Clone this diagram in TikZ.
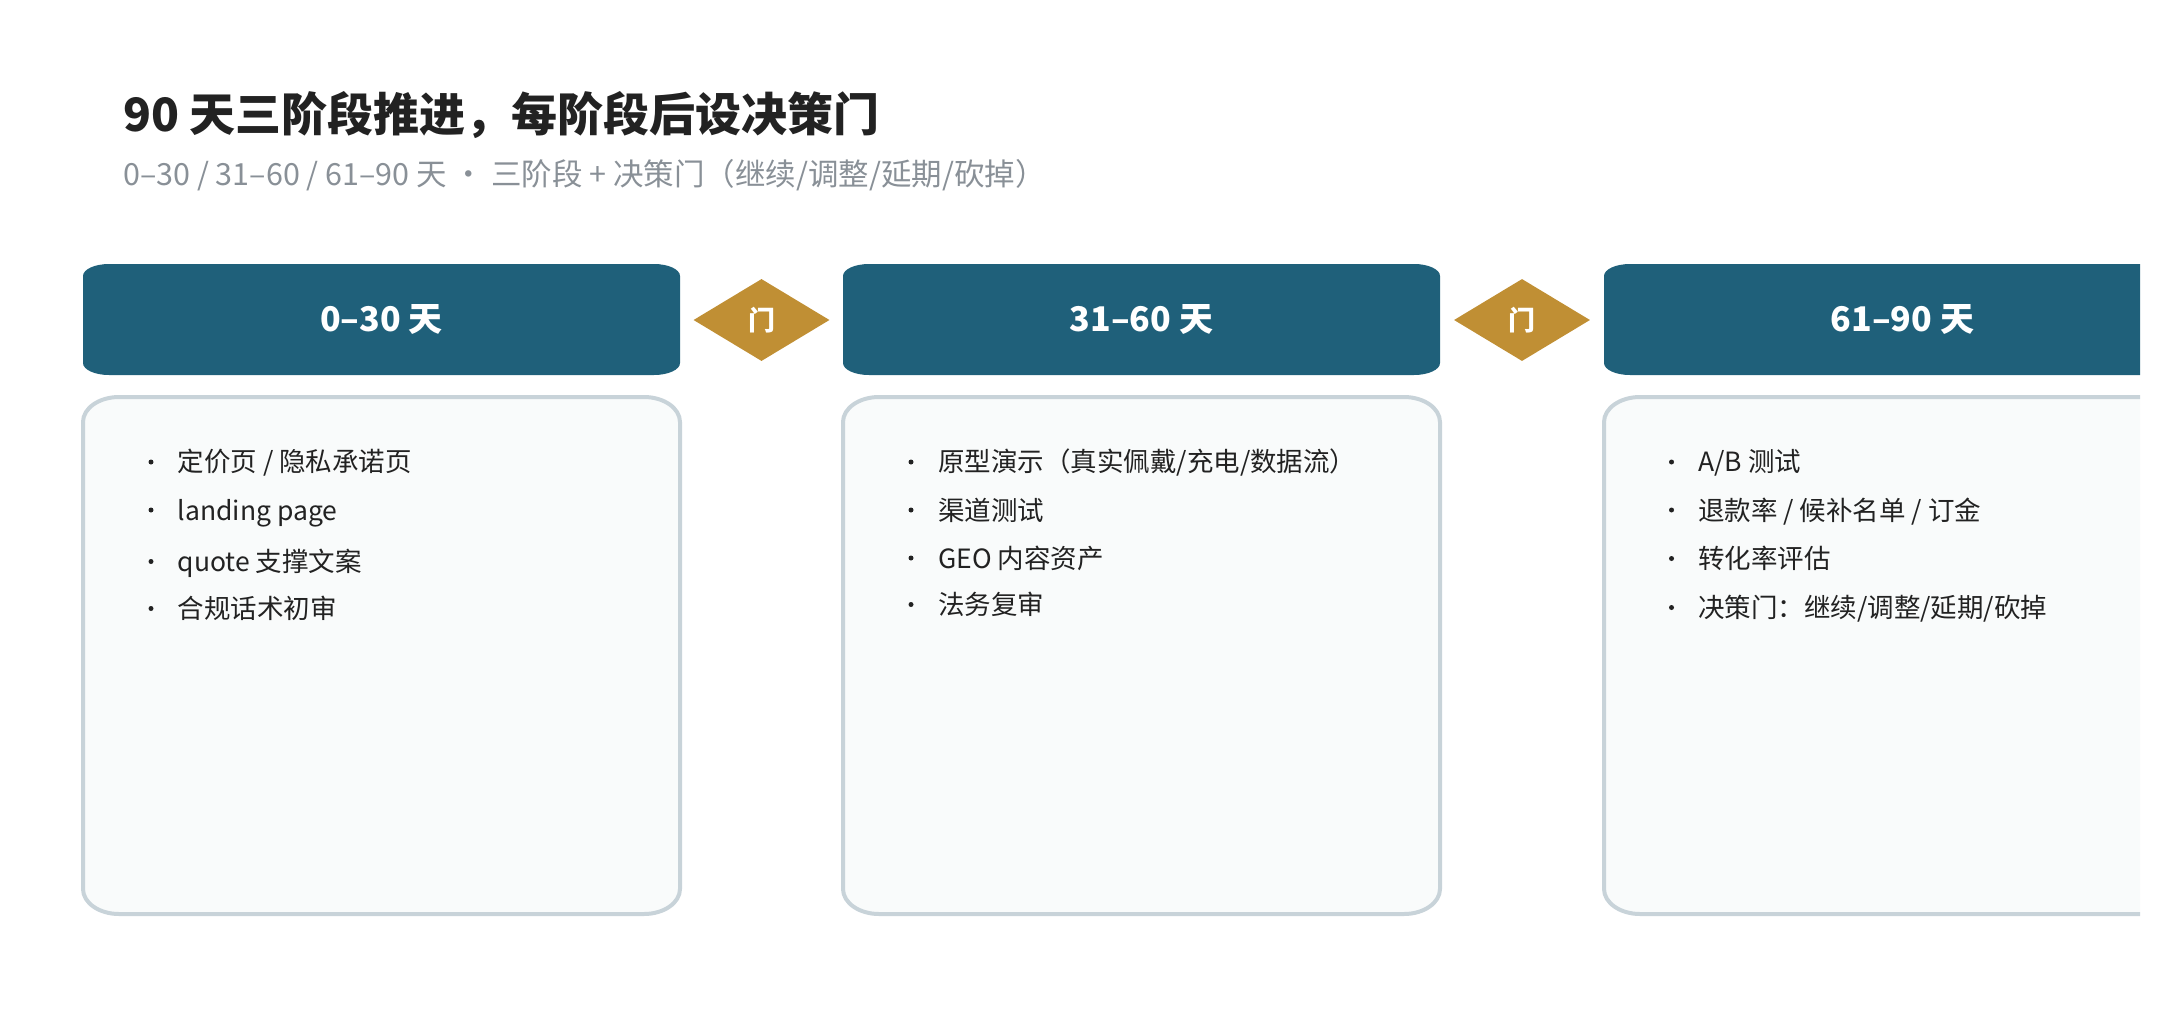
\documentclass[tikz,border=0pt]{standalone}
\usepackage{fontspec}
\setmainfont{Noto Sans CJK SC}
\usetikzlibrary{shapes.geometric}
\definecolor{hdr}{HTML}{1F607A}
\definecolor{gate}{HTML}{C08F34}
\definecolor{panelfill}{HTML}{F9FBFB}
\definecolor{panelline}{HTML}{C8D3D9}
\definecolor{titlec}{HTML}{222222}
\definecolor{subc}{HTML}{899097}
\definecolor{itemc}{HTML}{222222}
% elliptical-corner rectangle: #1 style, #2 x1, #3 y1, #4 x2, #5 y2, #6 rx, #7 ry
\newcommand{\ellrect}[7]{%
  \path[#1] (#2+#6,#3) -- (#4-#6,#3)
    arc[start angle=-90,end angle=0,x radius=#6,y radius=#7] -- (#4,#5-#7)
    arc[start angle=0,end angle=90,x radius=#6,y radius=#7] -- (#2+#6,#5)
    arc[start angle=90,end angle=180,x radius=#6,y radius=#7] -- (#2,#3+#7)
    arc[start angle=180,end angle=270,x radius=#6,y radius=#7] -- cycle;}
\tikzset{
  headshape/.style={fill=hdr},
  panelshape/.style={fill=panelfill, draw=panelline, line width=4pt},
  phasehead/.style={minimum width=597pt, minimum height=111pt, inner sep=0pt, text=white, font=\fontsize{34}{40}\selectfont\bfseries},
  panelbox/.style={minimum width=597pt, minimum height=517pt, inner sep=0pt},
  gatebox/.style={diamond, fill=gate, minimum width=136pt, minimum height=82pt, inner sep=0pt, text=white, font=\fontsize{27}{32}\selectfont\bfseries},
  itemtext/.style={anchor=base west, inner sep=0pt, text=itemc, font=\fontsize{26.5}{30}\selectfont},
  itemdot/.style={circle, fill=itemc, inner sep=0pt, minimum size=5pt},
}
\begin{document}
\begin{tikzpicture}[x=1pt,y=-1pt]
\useasboundingbox (0,0) rectangle (2168,1015);
\node[anchor=base west, inner sep=0pt, text=titlec, font=\fontsize{46}{54}\selectfont\bfseries] (title) at (123,131) {90 天三阶段推进，每阶段后设决策门};
\node[anchor=base west, inner sep=0pt, text=subc, font=\fontsize{30.5}{36}\selectfont] (subtitle) at (123,185) {0–30 / 31–60 / 61–90 天 · 三阶段 + 决策门（继续/调整/延期/砍掉）};

\begin{scope}
\clip (0,0) rectangle (2140,1015);
\ellrect{headshape}{83}{264}{680}{375}{26}{12}
\ellrect{headshape}{843}{264}{1440}{375}{26}{12}
\ellrect{headshape}{1604}{264}{2201}{375}{26}{12}
\ellrect{panelshape}{83}{397}{680}{914}{36}{25}
\ellrect{panelshape}{843}{397}{1440}{914}{36}{25}
\ellrect{panelshape}{1604}{397}{2201}{914}{36}{25}
\end{scope}

\node[phasehead] (h1) at (381.5,319.5) {0–30 天};
\node[phasehead] (h2) at (1141.5,319.5) {31–60 天};
\node[phasehead, anchor=west] (h3) at (1604,319.5) {};
\node[text=white, inner sep=0pt, font=\fontsize{34}{40}\selectfont\bfseries] (h3t) at (1902.5,319.5) {61–90 天};
\node[gatebox] (g1) at (761.5,320) {门};
\node[gatebox] (g2) at (1522,320) {门};

\node[panelbox] (p1) at (381.5,655.5) {};
\node[panelbox] (p2) at (1141.5,655.5) {};

\node[itemdot] (d11) at (151,462) {};
\node[itemtext] (t11) at (177.5,471.5) {定价页 / 隐私承诺页};
\node[itemdot] (d12) at (151,510) {};
\node[itemtext] (t12) at (177.5,520) {landing page};
\node[itemdot] (d13) at (151,561.5) {};
\node[itemtext] (t13) at (177.5,571) {quote 支撑文案};
\node[itemdot] (d14) at (151,608.5) {};
\node[itemtext] (t14) at (177.5,618) {合规话术初审};

\node[itemdot] (d21) at (911,462) {};
\node[itemtext] (t21) at (938,471.5) {原型演示（真实佩戴/充电/数据流）};
\node[itemdot] (d22) at (911,510) {};
\node[itemtext] (t22) at (938,520) {渠道测试};
\node[itemdot] (d23) at (911,558) {};
\node[itemtext] (t23) at (938,568) {GEO 内容资产};
\node[itemdot] (d24) at (911,604.5) {};
\node[itemtext] (t24) at (938,614) {法务复审};

\node[itemdot] (d31) at (1671.5,462) {};
\node[itemtext] (t31) at (1698,471.5) {A/B 测试};
\node[itemdot] (d32) at (1671.5,510) {};
\node[itemtext] (t32) at (1698,520) {退款率 / 候补名单 / 订金};
\node[itemdot] (d33) at (1671.5,558.5) {};
\node[itemtext] (t33) at (1698,568.5) {转化率评估};
\node[itemdot] (d34) at (1671.5,607.5) {};
\node[itemtext] (t34) at (1698,617) {决策门：继续/调整/延期/砍掉};
\end{tikzpicture}
\end{document}
